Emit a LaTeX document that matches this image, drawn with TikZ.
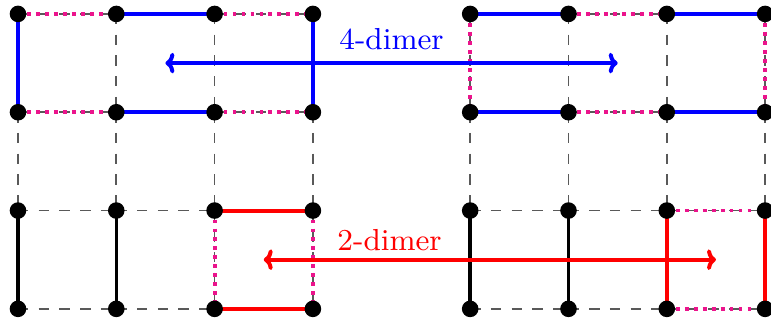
\documentclass[tikz,border=0pt]{standalone}
\usetikzlibrary{arrows.meta}
\definecolor{dimblue}{RGB}{0,0,255}
\definecolor{dimred}{RGB}{255,0,0}
\definecolor{dimpink}{RGB}{235,20,140}
\begin{document}
\begin{tikzpicture}[
  gridline/.style={dashed, line width=0.5pt, black!65},
  bluebond/.style={dimblue, line width=1.15pt},
  redbond/.style={dimred, line width=1.15pt},
  blackbond/.style={black, line width=1pt},
  pinkbond/.style={dimpink, line width=1.1pt, dash pattern=on 1.1pt off 1.5pt},
  dot/.style={circle, fill=black, inner sep=0pt, minimum size=4.8pt},
  swaparrow/.style={line width=1.15pt, {To[length=2.6pt,width=6pt]}-{To[length=2.6pt,width=6pt]}},
  dimlabel/.style={font=\fontsize{8.8}{10}\selectfont, inner sep=0pt}
]
\useasboundingbox (-0.183,-0.163) rectangle (7.660,3.142);
% grid points
\foreach \g/\ox in {L/0,R/4.6} {
  \foreach \c in {1,...,4} {
    \foreach \r in {1,...,4} {
      \coordinate (\g\r\c) at ({\ox+\c-1},{4-\r});
    }
  }
}
% dashed lattice
\foreach \g in {L,R} {
  \foreach \r in {1,...,4} {
    \foreach \c/\d in {1/2,2/3,3/4} {
      \draw[gridline] (\g\r\c) -- (\g\r\d);
    }
  }
  \foreach \c in {1,...,4} {
    \foreach \r/\s in {1/2,2/3,3/4} {
      \draw[gridline] (\g\r\c) -- (\g\s\c);
    }
  }
}
% left top: 4-dimer
\draw[bluebond] (L11) -- (L21);
\draw[bluebond] (L14) -- (L24);
\draw[bluebond] (L12) -- (L13);
\draw[bluebond] (L22) -- (L23);
\draw[pinkbond] (L11) -- (L12);
\draw[pinkbond] (L13) -- (L14);
\draw[pinkbond] (L21) -- (L22);
\draw[pinkbond] (L23) -- (L24);
% left bottom: 2-dimer
\draw[blackbond] (L31) -- (L41);
\draw[blackbond] (L32) -- (L42);
\draw[redbond] (L33) -- (L34);
\draw[redbond] (L43) -- (L44);
\draw[pinkbond] (L33) -- (L43);
\draw[pinkbond] (L34) -- (L44);
% right top
\draw[bluebond] (R11) -- (R12);
\draw[bluebond] (R13) -- (R14);
\draw[bluebond] (R21) -- (R22);
\draw[bluebond] (R23) -- (R24);
\draw[pinkbond] (R12) -- (R13);
\draw[pinkbond] (R22) -- (R23);
\draw[pinkbond] (R11) -- (R21);
\draw[pinkbond] (R14) -- (R24);
% right bottom
\draw[blackbond] (R31) -- (R41);
\draw[blackbond] (R32) -- (R42);
\draw[redbond] (R33) -- (R43);
\draw[redbond] (R34) -- (R44);
\draw[pinkbond] (R33) -- (R34);
\draw[pinkbond] (R43) -- (R44);
% dots
\foreach \g in {L,R} {
  \foreach \r in {1,...,4} {
    \foreach \c in {1,...,4} {
      \node[dot] (d\g\r\c) at (\g\r\c) {};
    }
  }
}
% arrows and labels
\coordinate (a4l) at (1.5,2.5);
\coordinate (a4r) at (6.1,2.5);
\coordinate (a2l) at (2.5,0.5);
\coordinate (a2r) at (7.1,0.5);
\draw[swaparrow, dimblue] (a4l) -- (a4r);
\draw[swaparrow, dimred] (a2l) -- (a2r);
\node[dimlabel, text=dimblue] (lab4) at (3.80,2.74) {4-dimer};
\node[dimlabel, text=dimred] (lab2) at (3.78,0.70) {2-dimer};
\end{tikzpicture}
\end{document}
